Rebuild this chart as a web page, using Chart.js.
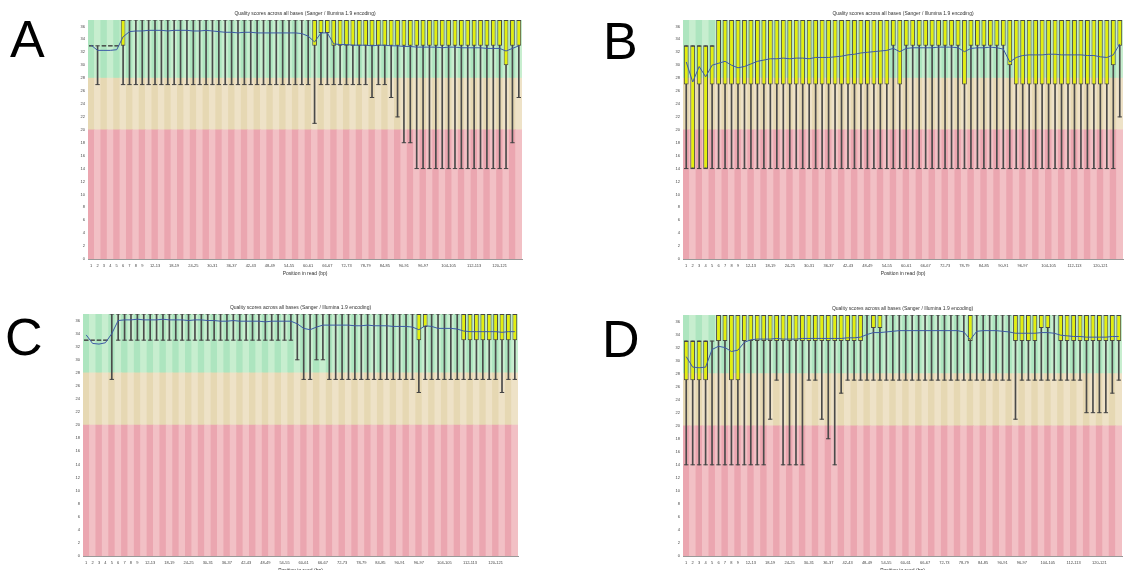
<!DOCTYPE html>
<html>
<head>
<meta charset="utf-8">
<title>Per base sequence quality</title>
<script src="https://cdn.jsdelivr.net/npm/chart.js@4.4.0/dist/chart.umd.min.js"></script>
<style>
  html, body { margin: 0; padding: 0; background: #fff; overflow: hidden; }
  body { width: 1131px; height: 570px; position: relative; font-family: "Liberation Sans", Arial, sans-serif; }
  .panel { position: absolute; }
  .letter { position: absolute; font-size: 52px; line-height: 1; color: #000; }
</style>
</head>
<body>
<div class="letter" style="left:10px;top:13px">A</div>
<div class="letter" style="left:603px;top:15px">B</div>
<div class="letter" style="left:5px;top:311px">C</div>
<div class="letter" style="left:602px;top:313px">D</div>

<div class="panel" style="left:40px;top:0px"><canvas id="chartA" width="488" height="277"></canvas></div>
<div class="panel" style="left:635px;top:0px"><canvas id="chartB" width="494" height="277"></canvas></div>
<div class="panel" style="left:35px;top:294px"><canvas id="chartC" width="489" height="280"></canvas></div>
<div class="panel" style="left:635px;top:295px"><canvas id="chartD" width="493" height="279"></canvas></div>

<script>
// base groups along the read
var positions = ["1","2","3","4","5","6","7","8","9","10-11","12-13","14-15","16-17","18-19",
  "20-21","22-23","24-25","26-27","28-29","30-31","32-33","34-35","36-37","38-39","40-41",
  "42-43","44-45","46-47","48-49","50-51","52-53","54-55","56-57","58-59","60-61","62-63",
  "64-65","66-67","68-69","70-71","72-73","74-75","76-77","78-79","80-81","82-83","84-85",
  "86-87","88-89","90-91","92-93","94-95","96-97","98-99","100-101","102-103","104-105",
  "106-107","108-109","110-111","112-113","114-115","116-117","118-119","120-121","122-123",
  "124-125","126"];

// labels that get printed under the x axis
var shownTicks = ["1","2","3","4","5","6","7","8","9","12-13","18-19","24-25","30-31","36-37",
  "42-43","48-49","54-55","60-61","66-67","72-73","78-79","84-85","90-91","96-97",
  "104-105","112-113","120-121"];

// quality zones: poor / reasonable / good
var bandEdges = [0, 20, 28, 37];
var yMax = 37;

// ---- sample A ----
var aQ1 = [33,33,33,33,33,33,37,37,37,37, 37,37,37,37,37,37,37,37,37,37,
  37,37,37,37,37,37,37,37,37,37, 37,37,37,37,37,33,35,35,33,33,
  33,33,33,33,33,33,33,33,33,33, 33,33,33,33,33,33,33,33,33,33,
  33,33,33,33,33,30,33,33];
var aQ3 = [33,33,33,33,33,37,37,37,37,37, 37,37,37,37,37,37,37,37,37,37,
  37,37,37,37,37,37,37,37,37,37, 37,37,37,37,37,37,37,37,37,37,
  37,37,37,37,37,37,37,37,37,37, 37,37,37,37,37,37,37,37,37,37,
  37,37,37,37,37,37,37,37];
var aP10 = [33,27,33,33,33,27,27,27,27,27, 27,27,27,27,27,27,27,27,27,27,
  27,27,27,27,27,27,27,27,27,27, 27,27,27,27,27,21,27,27,27,27,
  27,27,27,27,25,27,27,25,22,18, 18,14,14,14,14,14,14,14,14,14,
  14,14,14,14,14,14,18,25];
var aP90 = [33,33,33,33,33,37,37,37,37,37, 37,37,37,37,37,37,37,37,37,37,
  37,37,37,37,37,37,37,37,37,37, 37,37,37,37,37,37,37,37,37,37,
  37,37,37,37,37,37,37,37,37,37, 37,37,37,37,37,37,37,37,37,37,
  37,37,37,37,37,37,37,37];
var aMean = [33.1,32.3,32.3,32.3,32.4,34.4,35.2,35.3,35.3,35.4,
  35.4,35.4,35.3,35.4,35.4,35.4,35.3,35.3,35.4,35.3,
  35.2,35.1,35.1,35.0,35.1,35.1,35.0,35.0,35.0,35.0,
  35.0,35.0,35.0,34.9,34.5,33.6,35.0,35.0,33.3,33.2,
  33.2,33.1,33.1,33.1,33.0,33.1,33.1,33.0,33.0,32.9,
  32.9,32.8,32.8,32.8,32.8,32.7,32.8,32.8,32.7,32.7,
  32.7,32.7,32.6,32.6,32.6,32.2,32.6,33.0];

// ---- sample B ----
var bQ1 = [27,14,27,14,27,27,27,27,27,27, 27,27,27,27,27,27,27,27,27,27,
  27,27,27,27,27,27,27,27,27,27, 27,27,33,27,33,33,33,33,33,33,
  33,33,33,27,33,33,33,33,33,33, 30,27,27,27,27,27,27,27,27,27,
  27,27,27,27,27,27,30,33];
var bQ3 = [33,33,33,33,33,37,37,37,37,37, 37,37,37,37,37,37,37,37,37,37,
  37,37,37,37,37,37,37,37,37,37, 37,37,37,37,37,37,37,37,37,37,
  37,37,37,37,37,37,37,37,37,37, 37,37,37,37,37,37,37,37,37,37,
  37,37,37,37,37,37,37,37];
var bP10 = [14,14,14,14,14,14,14,14,14,14, 14,14,14,14,14,14,14,14,14,14,
  14,14,14,14,14,14,14,14,14,14, 14,14,14,14,14,14,14,14,14,14,
  14,14,14,14,14,14,14,14,14,14, 14,14,14,14,14,14,14,14,14,14,
  14,14,14,14,14,14,14,22];
var bP90 = [33,33,33,33,33,37,37,37,37,37, 37,37,37,37,37,37,37,37,37,37,
  37,37,37,37,37,37,37,37,37,37, 37,37,37,37,37,37,37,37,37,37,
  37,37,37,37,37,37,37,37,37,37, 37,37,37,37,37,37,37,37,37,37,
  37,37,37,37,37,37,37,37];
var bMean = [30.5,27.4,29.8,28.2,30.0,30.3,30.6,30.0,29.6,29.8,
  30.2,30.6,30.8,31.0,31.0,31.1,31.0,31.1,31.1,31.0,
  31.2,31.2,31.2,31.3,31.4,31.6,31.7,31.9,32.0,32.1,
  32.2,32.3,32.6,32.1,32.6,32.7,32.7,32.7,32.7,32.8,
  32.8,32.8,32.7,32.1,32.6,32.7,32.7,32.8,32.7,32.5,
  30.5,31.2,31.5,31.6,31.6,31.6,31.7,31.7,31.6,31.6,
  31.6,31.6,31.5,31.5,31.3,31.2,31.6,33.3];

// ---- sample C ----
var cQ1 = [33,33,33,33,37,37,37,37,37,37, 37,37,37,37,37,37,37,37,37,37,
  37,37,37,37,37,37,37,37,37,37, 37,37,37,37,37,37,37,37,37,37,
  37,37,37,37,37,37,37,37,37,37, 37,37,33,35,37,37,37,37,37,33,
  33,33,33,33,33,33,33,33];
var cQ3 = [33,33,33,33,37,37,37,37,37,37, 37,37,37,37,37,37,37,37,37,37,
  37,37,37,37,37,37,37,37,37,37, 37,37,37,37,37,37,37,37,37,37,
  37,37,37,37,37,37,37,37,37,37, 37,37,37,37,37,37,37,37,37,37,
  37,37,37,37,37,37,37,37];
var cP10 = [33,33,33,33,27,33,33,33,33,33, 33,33,33,33,33,33,33,33,33,33,
  33,33,33,33,33,33,33,33,33,33, 33,33,33,30,27,27,30,30,27,27,
  27,27,27,27,27,27,27,27,27,27, 27,27,25,27,27,27,27,27,27,27,
  27,27,27,27,27,25,27,27];
var cP90 = [33,33,33,33,37,37,37,37,37,37, 37,37,37,37,37,37,37,37,37,37,
  37,37,37,37,37,37,37,37,37,37, 37,37,37,37,37,37,37,37,37,37,
  37,37,37,37,37,37,37,37,37,37, 37,37,37,37,37,37,37,37,37,37,
  37,37,37,37,37,37,37,37];
var cMean = [33.8,32.5,32.4,32.6,34.0,36.0,36.1,36.1,36.2,36.1,
  36.1,36.1,36.2,36.1,36.1,36.1,36.0,36.1,36.1,36.0,
  36.0,35.9,35.9,36.0,35.9,35.9,35.9,35.9,35.8,35.9,
  35.9,35.9,35.9,35.5,34.8,34.6,35.0,35.3,35.3,35.3,
  35.3,35.3,35.2,35.2,35.3,35.2,35.2,35.2,35.1,35.1,
  35.1,35.0,34.6,35.2,35.1,34.8,34.8,34.8,34.7,34.4,
  34.3,34.3,34.3,34.3,34.3,34.2,34.3,34.3];

// ---- sample D ----
var dQ1 = [27,27,27,27,33,33,33,27,27,33, 33,33,33,33,33,33,33,33,33,33,
  33,33,33,33,33,33,33,33,37,35, 35,37,37,37,37,37,37,37,37,37,
  37,37,37,37,33,37,37,37,37,37, 37,33,33,33,33,35,35,37,33,33,
  33,33,33,33,33,33,33,33];
var dQ3 = [33,33,33,33,33,37,37,37,37,37, 37,37,37,37,37,37,37,37,37,37,
  37,37,37,37,37,37,37,37,37,37, 37,37,37,37,37,37,37,37,37,37,
  37,37,37,37,37,37,37,37,37,37, 37,37,37,37,37,37,37,37,37,37,
  37,37,37,37,37,37,37,37];
var dP10 = [14,14,14,14,14,14,14,14,14,14, 14,14,14,21,27,14,14,14,14,27,
  27,21,18,14,25,27,27,27,27,27, 27,27,27,27,27,27,27,27,27,27,
  27,27,27,27,27,27,27,27,27,27, 27,21,27,27,27,27,27,27,27,27,
  27,27,22,22,22,22,25,27];
var dP90 = [33,33,33,33,33,37,37,37,37,37, 37,37,37,37,37,37,37,37,37,37,
  37,37,37,37,37,37,37,37,37,37, 37,37,37,37,37,37,37,37,37,37,
  37,37,37,37,37,37,37,37,37,37, 37,37,37,37,37,37,37,37,37,37,
  37,37,37,37,37,37,37,37];
var dMean = [30.6,29.0,28.9,29.0,31.7,32.2,32.0,31.4,31.6,32.8,
  33.2,33.3,33.3,33.3,33.4,33.3,33.3,33.3,33.4,33.4,
  33.4,33.4,33.4,33.4,33.4,33.5,33.5,33.6,34.0,34.3,
  34.3,34.4,34.5,34.6,34.6,34.6,34.6,34.6,34.6,34.6,
  34.6,34.6,34.6,34.4,33.2,34.5,34.6,34.6,34.6,34.5,
  34.4,34.2,34.2,34.2,34.2,34.3,34.3,34.2,33.9,33.8,
  33.7,33.7,33.6,33.6,33.6,33.6,33.7,33.7];

var titleText = "Quality scores across all bases (Sanger / Illumina 1.9 encoding)";

// alternating column shades for each zone
var zoneColors = [
  ["#eba6b0", "#f2c0c5"],
  ["#e6d8b3", "#eee2c7"],
  ["#ade5bf", "#c7eecf"]
];

Chart.defaults.font.family = '"Liberation Sans", Arial, sans-serif';

function zoneDataset(lo, hi, colors) {
  return {
    type: "bar",
    data: positions.map(function () { return [lo, hi]; }),
    backgroundColor: positions.map(function (p, i) { return colors[i % 2]; }),
    borderWidth: 0,
    barPercentage: 1,
    categoryPercentage: 1,
    grouped: false,
    order: 10
  };
}

function capDataset(values) {
  return {
    type: "line",
    data: values,
    showLine: false,
    pointStyle: "line",
    pointRadius: 2.2,
    pointHoverRadius: 0,
    pointBorderColor: "#444",
    pointBorderWidth: 1,
    order: 3
  };
}

function drawPanel(id, q1, q3, p10, p90, mean) {
  var datasets = [];
  for (var z = 0; z < 3; z++) {
    datasets.push(zoneDataset(bandEdges[z], bandEdges[z + 1], zoneColors[z]));
  }

  // whiskers: 10th to 90th percentile
  datasets.push({
    type: "bar",
    data: p10.map(function (v, i) { return p90[i] > v ? [v, p90[i]] : null; }),
    backgroundColor: "#4a4a4a",
    barThickness: 1,
    grouped: false,
    order: 5
  });

  // boxes: lower to upper quartile
  datasets.push({
    type: "bar",
    data: q1.map(function (v, i) { return q3[i] > v ? [v, q3[i]] : null; }),
    backgroundColor: "#e3ef0e",
    borderColor: "#4a4a40",
    borderWidth: 1,
    borderSkipped: false,
    barPercentage: 0.74,
    categoryPercentage: 1,
    grouped: false,
    order: 4
  });

  datasets.push(capDataset(p10));
  datasets.push(capDataset(p90));

  // mean quality
  datasets.push({
    type: "line",
    data: mean,
    borderColor: "#3c5aa6",
    borderWidth: 1,
    pointRadius: 0,
    tension: 0,
    order: 1
  });

  new Chart(document.getElementById(id), {
    type: "bar",
    data: { labels: positions, datasets: datasets },
    options: {
      responsive: false,
      animation: false,
      events: [],
      layout: { padding: { left: 0, right: 6, top: 0, bottom: 0 } },
      plugins: {
        legend: { display: false },
        tooltip: { enabled: false },
        title: {
          display: true,
          text: titleText,
          fullSize: false,
          color: "#333",
          font: { size: 5, weight: "normal" },
          padding: { top: 11, bottom: 3 }
        }
      },
      scales: {
        x: {
          type: "category",
          offset: true,
          grid: { display: false, drawTicks: false },
          border: { display: true, color: "#999", width: 1 },
          ticks: {
            autoSkip: false,
            maxRotation: 0,
            minRotation: 0,
            padding: 4,
            color: "#444",
            font: { size: 4 },
            callback: function (v, i) {
              return shownTicks.indexOf(positions[i]) >= 0 ? positions[i] : "";
            }
          },
          title: {
            display: true,
            text: "Position in read (bp)",
            color: "#333",
            font: { size: 5 },
            padding: { top: 1, bottom: 0 }
          },
          afterFit: function (s) { s.height = 18; }
        },
        y: {
          min: 0,
          max: yMax,
          grid: { display: false, drawTicks: false },
          border: { display: false },
          ticks: {
            stepSize: 2,
            padding: 3,
            color: "#444",
            font: { size: 4 },
            callback: function (v) { return v % 2 === 0 ? v : ""; }
          },
          afterFit: function (s) { s.width = 48; }
        }
      }
    }
  });
}

drawPanel("chartA", aQ1, aQ3, aP10, aP90, aMean);
drawPanel("chartB", bQ1, bQ3, bP10, bP90, bMean);
drawPanel("chartC", cQ1, cQ3, cP10, cP90, cMean);
drawPanel("chartD", dQ1, dQ3, dP10, dP90, dMean);
</script>
</body>
</html>
